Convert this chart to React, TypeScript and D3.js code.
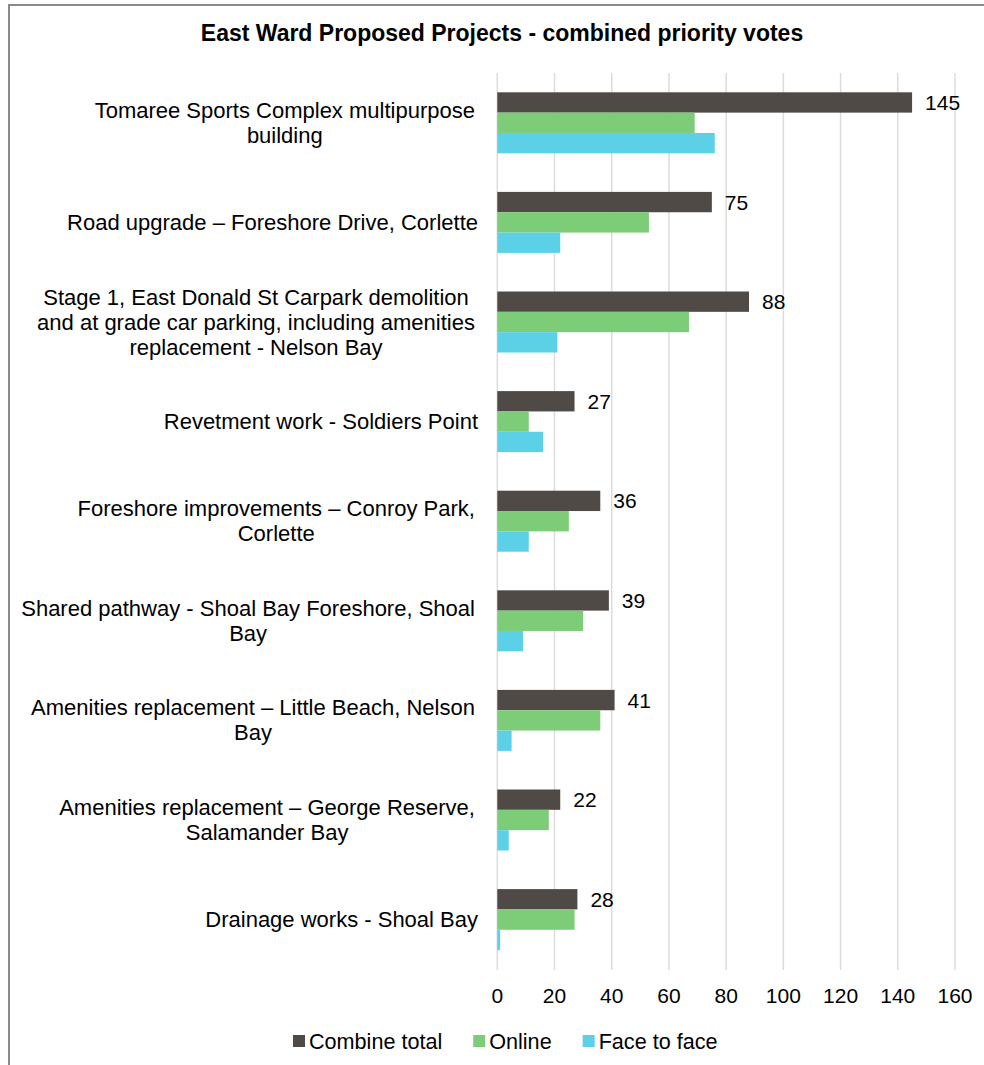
import React, { useEffect, useRef } from "react";
import * as d3 from "d3";

const categories: string[][] = [
  ["Tomaree Sports Complex multipurpose ", "building"],
  ["Road upgrade – Foreshore Drive, Corlette"],
  ["Stage 1, East Donald St Carpark demolition ", "and at grade car parking, including amenities ", "replacement - Nelson Bay"],
  ["Revetment work - Soldiers Point"],
  ["Foreshore improvements – Conroy Park, ", "Corlette"],
  ["Shared pathway - Shoal Bay Foreshore, Shoal ", "Bay"],
  ["Amenities replacement – Little Beach, Nelson ", "Bay"],
  ["Amenities replacement – George Reserve, ", "Salamander Bay"],
  ["Drainage works - Shoal Bay"],
];

const combineTotal = [145, 75, 88, 27, 36, 39, 41, 22, 28];
const online = [69, 53, 67, 11, 25, 30, 36, 18, 27];
const faceToFace = [76, 22, 21, 16, 11, 9, 5, 4, 1];

const seriesNames = ["Combine total", "Online", "Face to face"];
const seriesColors = ["#504a47", "#7dcc77", "#5bd0e6"];
const xTicks = [0, 20, 40, 60, 80, 100, 120, 140, 160];
const title = "East Ward Proposed Projects - combined priority votes";

const W = 984;
const H = 1065;
const FONT = "'Liberation Sans', Arial, sans-serif";

export default function App() {
  const ref = useRef<SVGSVGElement | null>(null);

  useEffect(() => {
    const svg = d3.select(ref.current);
    svg.selectAll("*").remove();

    const canvas = document.createElement("canvas");
    const ctx = canvas.getContext("2d")!;
    const measure = (t: string, size: number, weight = "normal") => {
      ctx.font = `${weight} ${size}px 'Liberation Sans', Arial, sans-serif`;
      return ctx.measureText(t).width;
    };

    const x = d3.scaleLinear().domain([0, 160]).range([497.3, 955]);
    const idx = categories.map((_, i) => String(i));
    const y = d3.scaleBand().domain(idx).range([73, 969.4]).padding(0);
    const groupH = 61;
    const sub = d3
      .scaleBand()
      .domain(seriesNames)
      .range([(y.bandwidth() - groupH) / 2, (y.bandwidth() + groupH) / 2])
      .padding(0);
    const series = [combineTotal, online, faceToFace];

    // frame
    svg.append("line").attr("x1", 9).attr("x2", 9).attr("y1", 4).attr("y2", H)
      .attr("stroke", "#8a8a8a").attr("stroke-width", 2);
    svg.append("line").attr("x1", 8).attr("x2", W).attr("y1", 5).attr("y2", 5)
      .attr("stroke", "#8a8a8a").attr("stroke-width", 2);

    // title
    svg.append("text").attr("x", 502).attr("y", 41).attr("text-anchor", "middle")
      .attr("font-family", FONT).attr("font-weight", "bold").attr("font-size", 23)
      .attr("fill", "#000").text(title);

    // gridlines
    svg.append("g").selectAll("line").data(xTicks).join("line")
      .attr("x1", (d) => x(d)).attr("x2", (d) => x(d))
      .attr("y1", 73).attr("y2", 970)
      .attr("stroke", "#dcdcdc").attr("stroke-width", 1.5);

    // bars
    series.forEach((vals, si) => {
      svg.append("g").selectAll("rect").data(vals).join("rect")
        .attr("x", x(0))
        .attr("y", (_, i) => (y(String(i)) as number) + (sub(seriesNames[si]) as number))
        .attr("width", (d) => x(d) - x(0))
        .attr("height", sub.bandwidth())
        .attr("fill", seriesColors[si]);
    });

    // value labels
    svg.append("g").selectAll("text").data(combineTotal).join("text")
      .attr("x", (d) => x(d) + 13)
      .attr("y", (_, i) => (y(String(i)) as number) + (sub(seriesNames[0]) as number) + sub.bandwidth() / 2 + 7.5)
      .attr("font-family", FONT).attr("font-size", 21).attr("fill", "#000")
      .text((d) => String(d));

    // category labels
    const rightEdge = 478;
    const lh = 25;
    const catSize = 22;
    categories.forEach((lines, i) => {
      const cy = (y(String(i)) as number) + y.bandwidth() / 2;
      const maxW = d3.max(lines, (l) => measure(l, catSize)) as number;
      const cx = rightEdge - maxW / 2;
      const t = svg.append("text").attr("font-family", FONT).attr("font-size", catSize)
        .attr("fill", "#000").attr("text-anchor", "middle");
      lines.forEach((l, li) => {
        t.append("tspan").attr("x", cx)
          .attr("y", cy + 7.5 + (li - (lines.length - 1) / 2) * lh)
          .text(l.trim());
      });
    });

    // x tick labels
    svg.append("g").selectAll("text").data(xTicks).join("text")
      .attr("x", (d) => x(d)).attr("y", 1003).attr("text-anchor", "middle")
      .attr("font-family", FONT).attr("font-size", 21).attr("fill", "#000")
      .text((d) => String(d));

    // legend
    let lx = 293;
    const ly = 1041;
    const legSize = 21.6;
    seriesNames.forEach((name, si) => {
      svg.append("rect").attr("x", lx).attr("y", ly - 6).attr("width", 12).attr("height", 12)
        .attr("fill", seriesColors[si]);
      svg.append("text").attr("x", lx + 16).attr("y", ly + 7.5)
        .attr("font-family", FONT).attr("font-size", legSize).attr("fill", "#000").text(name);
      lx += 16 + measure(name, legSize) + 31;
    });
  }, []);

  return (
    <svg
      ref={ref}
      width={W}
      height={H}
      style={{ position: "absolute", left: 0, top: 0, background: "#fff" }}
    />
  );
}
